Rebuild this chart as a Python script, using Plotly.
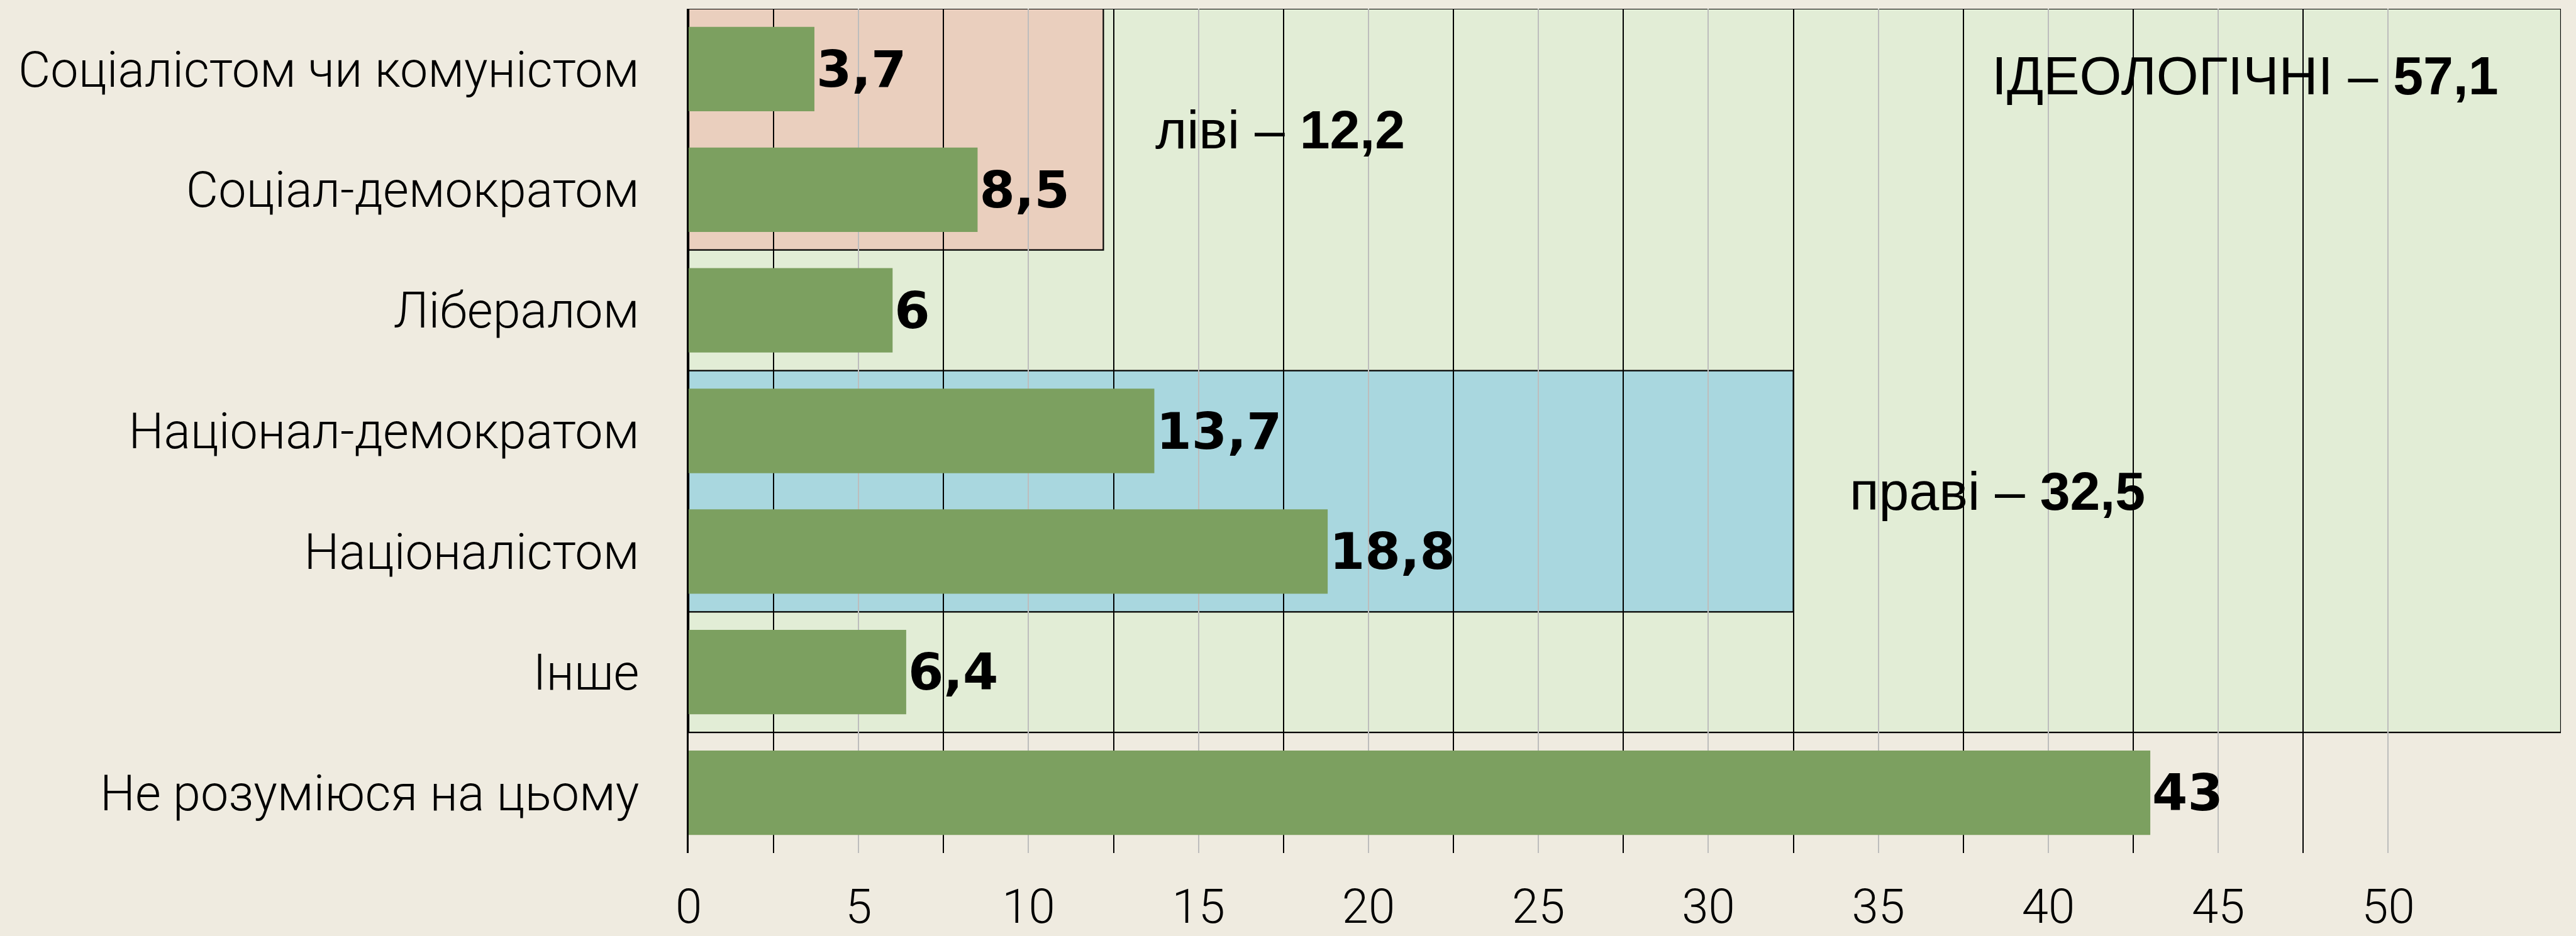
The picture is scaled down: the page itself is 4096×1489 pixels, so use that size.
import plotly.graph_objects as go

# ---- data ----
categories = [
    "Соціалістом чи комуністом",
    "Соціал-демократом",
    "Лібералом",
    "Націонал-демократом",
    "Націоналістом",
    "Інше",
    "Не розуміюся на цьому",
]
values = [3.7, 8.5, 6, 13.7, 18.8, 6.4, 43]

group_names = ["ІДЕОЛОГІЧНІ", "ліві", "праві"]
group_totals = [57.1, 12.2, 32.5]
group_first = [0, 0, 3]   # index of first category in group
group_last = [5, 1, 4]    # index of last category in group

tick_values = [0, 5, 10, 15, 20, 25, 30, 35, 40, 45, 50]


def fmt(v):
    return f"{v:g}".replace(".", ",")


# ---- style ----
BG = "#EFEBE0"
BAR = "#7CA060"
GROUP_FILL = ["#E2EDD6", "#EACFBE", "#A9D7DF"]
XMAX = 55.08
LABEL_FONT = "Roboto"
BOLD_FONT = "Liberation Sans"
VALUE_FONT = "DejaVu Sans"

fig = go.Figure()
fig.add_trace(go.Bar(
    x=values,
    y=categories,
    orientation="h",
    width=0.7,
    marker=dict(color=BAR, line=dict(width=0)),
    text=[fmt(v) for v in values],
    textposition="outside",
    constraintext="none",
    cliponaxis=False,
    textfont=dict(family=VALUE_FONT, size=81, color="black", weight="bold"),
    hoverinfo="skip",
))

shapes = []
annotations = []
label_pos = {  # annotation placement (x centre, y in category units)
    "ІДЕОЛОГІЧНІ": (45.8, 0.05),
    "ліві": (17.4, 0.5),
    "праві": (38.5, 3.5),
}
for name, tot, a, b, col in zip(group_names, group_totals, group_first, group_last, GROUP_FILL):
    shapes.append(dict(
        type="rect", xref="x", yref="y",
        x0=0, x1=min(tot, XMAX), y0=a - 0.5, y1=b + 0.5,
        fillcolor=col, line=dict(color="black", width=2.2), layer="below",
    ))
    px, py = label_pos[name]
    annotations.append(dict(
        x=px, y=py, xref="x", yref="y", showarrow=False,
        xanchor="center", yanchor="middle",
        text=f"{name} – <b>{fmt(tot)}</b>",
        font=dict(family=BOLD_FONT, size=86, color="black"),
    ))

n = len(categories)
fig.update_layout(
    width=4096, height=1489,
    paper_bgcolor=BG, plot_bgcolor=BG,
    margin=dict(l=1095, r=24, t=14, b=132, autoexpand=False),
    showlegend=False,
    bargap=0.3,
    shapes=shapes,
    annotations=annotations,
    xaxis=dict(
        range=[0, XMAX],
        tickmode="array", tickvals=tick_values,
        ticktext=[str(t) for t in tick_values],
        showgrid=True, gridcolor="#BDBDBD", gridwidth=1.8,
        zeroline=False, showline=False, ticks="",
        tickfont=dict(family=LABEL_FONT, size=76, color="black", weight=300),
        ticklabelstandoff=34,
        automargin=False,
        minor=dict(
            tickmode="array",
            tickvals=[t + 2.5 for t in tick_values[:-1]],
            showgrid=True, gridcolor="black", gridwidth=2.2, ticks="",
        ),
        fixedrange=True,
    ),
    yaxis=dict(
        range=[n - 0.5, -0.5],
        showgrid=False, zeroline=False,
        showline=True, linecolor="black", linewidth=2.5,
        ticks="",
        tickfont=dict(family=LABEL_FONT, size=79, color="black", weight=300),
        ticklabelstandoff=60,
        automargin=False,
        fixedrange=True,
    ),
)

fig.write_html(
    "out.html",
    config={"displayModeBar": False},
    post_script="document.body.style.margin='0';document.body.style.overflow='hidden';",
)
